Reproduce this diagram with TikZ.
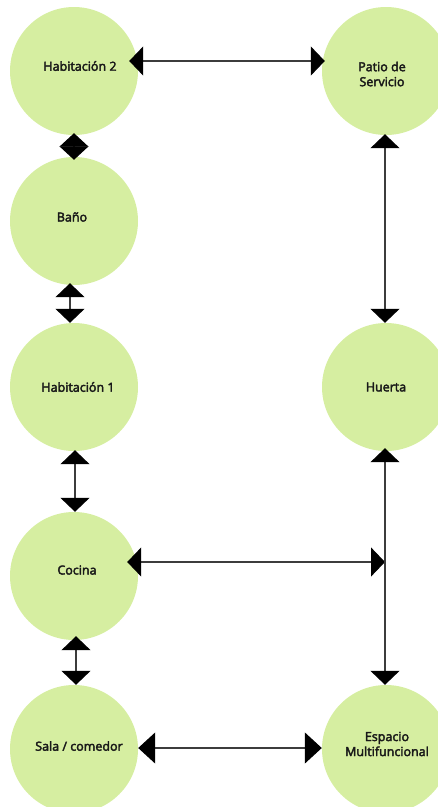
\documentclass[tikz,border=0pt]{standalone}
\usepackage{fontspec}
\newfontfamily\lblfont[FakeBold=3]{Open Sans}
\usetikzlibrary{arrows.meta}
\definecolor{circgreen}{RGB}{214,238,161}
\definecolor{linegray}{RGB}{60,60,60}
\tikzset{
  room/.style={circle, fill=circgreen, minimum size=128pt, inner sep=0pt},
  lbl/.style={font=\lblfont\fontsize{12.5}{15}\selectfont, align=center, text=black!90, inner sep=0pt},
  link/.style={draw=linegray, line width=1.1pt,
    {Triangle[width=29pt,length=14pt,color=black]}-{Triangle[width=29pt,length=14pt,color=black]}},
  biglink/.style={draw=linegray, line width=1.1pt,
    {Triangle[width=31pt,length=17pt,color=black]}-{Triangle[width=31pt,length=17pt,color=black]}},
}
\begin{document}
\begin{tikzpicture}[x=1pt,y=-1pt]
\useasboundingbox (0,0) rectangle (438,807);
\clip (0,0) rectangle (438,807);
% rooms
\node[room] (hab2) at (74,71) {};
\node[room] (bano) at (74,221) {};
\node[room] (hab1) at (74,387) {};
\node[room] (cocina) at (74,576) {};
\node[room] (sala) at (74,749) {};
\node[room] (patio) at (386,71) {};
\node[room] (huerta) at (386,387) {};
\node[room] (espacio) at (386,749) {};
% labels
\node[lbl] (thab2) at (80,66) {Habitación 2};
\node[lbl] (tbano) at (72,217) {Baño};
\node[lbl] (thab1) at (78,387) {Habitación 1};
\node[lbl] (tcocina) at (77,570) {Cocina};
\node[lbl] (tsala) at (79,746) {Sala / comedor};
\node[lbl] (tpatio) at (382,74) {Patio de\\Servicio};
\node[lbl] (thuerta) at (386,387) {Huerta};
\node[lbl] (tespacio) at (387,744) {Espacio\\Multifuncional};
% junction on right vertical line
\coordinate (j) at (385,562);
% connectors
\draw[link] ([xshift=-9pt,yshift=10pt]hab2.east) -- ([xshift=3pt,yshift=10pt]patio.west);
\draw[link, {Triangle[width=29pt,length=13.5pt,color=black]}-{Triangle[width=29pt,length=13.5pt,color=black]}] ([yshift=2pt]hab2.south) -- ([yshift=-3pt]bano.north);
\draw[link] ([xshift=-4pt,yshift=2pt]bano.south) -- ([xshift=-4pt]hab1.north);
\draw[link] ([xshift=1pt,yshift=1pt]hab1.south) -- ([xshift=1pt]cocina.north);
\draw[link] ([xshift=2pt,yshift=4pt]cocina.south) -- ([xshift=2pt]sala.north);
\draw[link] ([xshift=-11pt,yshift=14pt]cocina.east) -- (j);
\draw[link] ([xshift=-1pt,yshift=1pt]patio.south) -- ([xshift=-1pt]huerta.north);
\draw[link] ([xshift=-1pt,yshift=3pt]huerta.south) -- ([xshift=-1pt]espacio.north);
\draw[biglink] ([yshift=1pt]sala.east) -- ([yshift=1pt]espacio.west);
\end{tikzpicture}
\end{document}
